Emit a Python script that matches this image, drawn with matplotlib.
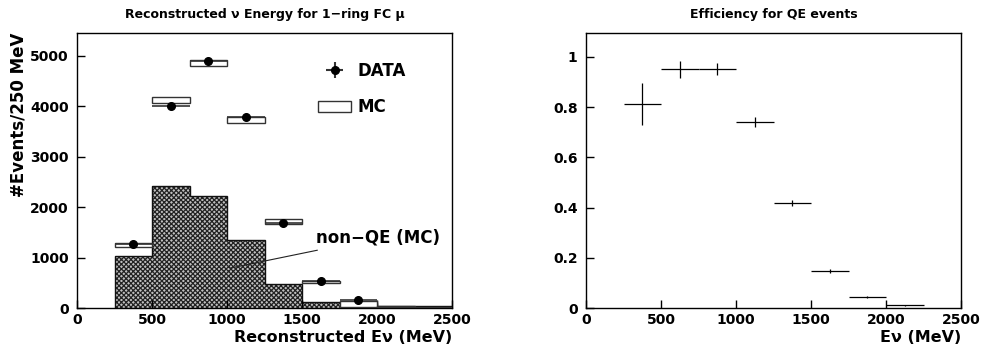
import numpy as np
import matplotlib
matplotlib.use("Agg")
import matplotlib.pyplot as plt
from matplotlib.patches import Patch

plt.rcParams["font.family"] = ["DejaVu Sans"]
plt.rcParams["font.weight"] = "bold"
plt.rcParams["hatch.linewidth"] = 0.9

# bins of reconstructed neutrino energy (MeV)
bin_lo = [250, 500, 750, 1000, 1250, 1500, 1750, 2000, 2250]
bin_w = 250

# left panel: data, MC (centre and half height of the box) and non-QE MC
data_y = [1270, 4000, 4890, 3790, 1680, 540, 160]
mc_mid = [1250, 4125, 4855, 3720, 1715, 515, 85, 20, 15]
mc_half = [45, 65, 65, 60, 45, 25, 60, 10, 8]
nonqe = [1040, 2420, 2210, 1350, 470, 115, 90, 45, 40]

# right panel: efficiency for QE events
eff = [0.812, 0.950, 0.952, 0.741, 0.420, 0.147, 0.044, 0.010]
eff_err = [0.083, 0.033, 0.023, 0.019, 0.012, 0.007, 0.004, 0.002]

edges = bin_lo + [bin_lo[-1] + bin_w]
centers = [b + bin_w / 2 for b in bin_lo]

fig = plt.figure(figsize=(9.81, 3.52), dpi=100)
ax1 = fig.add_axes([77 / 981, 44 / 352, 375 / 981, 275 / 352])
ax2 = fig.add_axes([586 / 981, 44 / 352, 375 / 981, 275 / 352])

for ax in (ax1, ax2):
    ax.tick_params(direction="in", length=6, width=1, labelsize=10)
    ax.tick_params(axis="y", pad=6)
    ax.tick_params(axis="x", pad=3.5)
    for s in ax.spines.values():
        s.set_linewidth(1.0)
    ax.set_xlim(0, 2500)
    ax.set_xticks([0, 500, 1000, 1500, 2000, 2500])

# non-QE hatched histogram
ax1.stairs(nonqe, edges, fill=True, facecolor="#c0c0c0", edgecolor="#222222",
           hatch="xxxxxxx", linewidth=0)
ax1.stairs(nonqe, edges, fill=False, edgecolor="#111111", linewidth=1.0)

# MC boxes
mc_bottom = [m - h for m, h in zip(mc_mid, mc_half)]
mc_height = [2 * h for h in mc_half]
ax1.bar(bin_lo, mc_height, width=bin_w, bottom=mc_bottom, align="edge",
        facecolor="white", edgecolor="#333333", linewidth=1.0, zorder=3)

# data points
n = len(data_y)
ax1.errorbar(centers[:n], data_y, xerr=bin_w / 2, fmt="o", color="black",
             ecolor="#333333", elinewidth=1.2, markersize=5.5, capsize=0,
             zorder=4)

ax1.set_ylim(0, 5450)
ax1.set_yticks([0, 1000, 2000, 3000, 4000, 5000])
ax1.set_title("Reconstructed \u03bd Energy for 1\u2212ring FC \u03bc",
              fontsize=9, fontweight="bold", pad=11)
ax1.set_ylabel("#Events/250 MeV", fontsize=12, fontweight="bold",
               labelpad=2, loc="top")
ax1.set_xlabel("Reconstructed E\u03bd (MeV)", fontsize=11.5,
               fontweight="bold", loc="right", labelpad=2)

# legend
h_data = ax1.errorbar([], [], xerr=[], yerr=[], fmt="o", color="black",
                      ecolor="#333333", markersize=5.5, capsize=0)
h_mc = Patch(facecolor="white", edgecolor="#333333", linewidth=1.0)
ax1.legend([h_data, h_mc], ["DATA", "MC"], loc="upper left",
           bbox_to_anchor=(0.62, 0.925), frameon=False, fontsize=12,
           handlelength=2.0, handleheight=0.7, labelspacing=1.1,
           handletextpad=0.4, borderpad=0)

ax1.annotate("non\u2212QE (MC)", xy=(1020, 790), xytext=(1590, 1390),
             fontsize=12, fontweight="bold", va="center",
             arrowprops=dict(arrowstyle="-", color="#222222", lw=0.8,
                             shrinkA=2, shrinkB=0))

# efficiency panel
ax2.errorbar(centers[:len(eff)], eff, xerr=bin_w / 2, yerr=eff_err, fmt="none",
             ecolor="black", elinewidth=0.9, capsize=0)
ax2.set_ylim(0, 1.095)
ax2.set_yticks([0, 0.2, 0.4, 0.6, 0.8, 1])
ax2.set_yticklabels(["0", "0.2", "0.4", "0.6", "0.8", "1"])
ax2.set_title("Efficiency for QE events", fontsize=9, fontweight="bold",
              pad=11)
ax2.set_xlabel("E\u03bd (MeV)", fontsize=11.5, fontweight="bold", loc="right",
               labelpad=2)

fig.savefig("out.png", dpi=100)
